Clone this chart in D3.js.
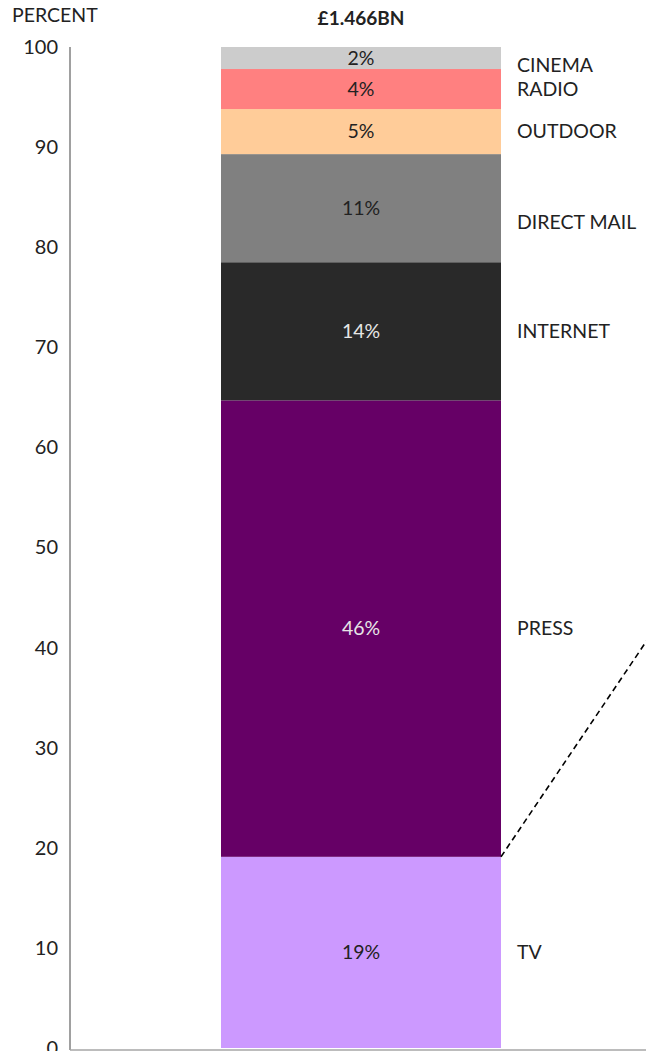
<!DOCTYPE html>
<html>
<head>
<meta charset="utf-8">
<script src="https://cdn.jsdelivr.net/npm/d3@7"></script>
<style>
  html, body { margin: 0; padding: 0; background: #fff; }
  svg { display: block; font-family: "Lato", "Open Sans", sans-serif; }
</style>
</head>
<body>
<svg id="chart" width="646" height="1051"></svg>
<script>
// Media share of advertising spend, stacked bottom to top
const categories = ["TV", "PRESS", "INTERNET", "DIRECT MAIL", "OUTDOOR", "RADIO", "CINEMA"];
const shares = [19.1, 45.6, 13.8, 10.8, 4.5, 4.0, 2.2];
const colors = ["#cc99ff", "#660066", "#292929", "#808080", "#ffcc99", "#ff8080", "#cccccc"];
const valueTextColors = ["#222", "#e6e6e6", "#e6e6e6", "#222", "#222", "#222", "#222"];
const yTicks = [0, 10, 20, 30, 40, 50, 60, 70, 80, 90, 100];
const total = "£1.466BN";
const yTitle = "PERCENT";

const svg = d3.select("#chart");
const W = 646;

const y = d3.scaleLinear().domain([0, 100]).range([1048, 47]);
const barX0 = 221, barX1 = 501;

// stack
let acc = 0;
const stacked = categories.map((c, i) => {
  const d = { cat: c, v: shares[i], y0: acc, y1: acc + shares[i], color: colors[i], tc: valueTextColors[i] };
  acc += shares[i];
  return d;
});

// axis lines
svg.append("line")
  .attr("x1", 70).attr("x2", 70)
  .attr("y1", y(100)).attr("y2", 1050)
  .attr("stroke", "#808080").attr("stroke-width", 1.5);
svg.append("line")
  .attr("x1", 70).attr("x2", W)
  .attr("y1", 1050).attr("y2", 1050)
  .attr("stroke", "#a6a6a6").attr("stroke-width", 1.5);

// y tick labels
const yAxis = d3.axisLeft(y).tickValues(yTicks).tickSize(0).tickPadding(0);
const gy = svg.append("g").attr("transform", "translate(58,0)").call(yAxis);
gy.select(".domain").remove();
gy.selectAll("text")
  .attr("font-size", 20).attr("fill", "#222")
  .attr("font-family", "Lato, sans-serif");

svg.append("text")
  .attr("x", 12).attr("y", 22)
  .attr("font-size", 19.5).attr("fill", "#222")
  .text(yTitle);

svg.append("text")
  .attr("x", (barX0 + barX1) / 2).attr("y", 25)
  .attr("text-anchor", "middle")
  .attr("font-size", 19).attr("font-weight", "bold").attr("fill", "#222")
  .text(total);

// segments
const seg = svg.append("g").selectAll("g").data(stacked).join("g");
seg.append("rect")
  .attr("x", barX0).attr("width", barX1 - barX0)
  .attr("y", d => y(d.y1))
  .attr("height", d => y(d.y0) - y(d.y1))
  .attr("fill", d => d.color);
seg.append("text")
  .attr("x", (barX0 + barX1) / 2)
  .attr("y", d => y((d.y0 + d.y1) / 2))
  .attr("dy", "0.35em")
  .attr("text-anchor", "middle")
  .attr("font-size", 19.5)
  .attr("fill", d => d.tc)
  .text(d => Math.round(d.v) + "%");

// category labels to the right, nudged where neighbours crowd
const nudge = { "CINEMA": 7, "DIRECT MAIL": 14 };
seg.append("text")
  .attr("x", 517)
  .attr("y", d => y((d.y0 + d.y1) / 2) + (nudge[d.cat] || 0))
  .attr("dy", "0.35em")
  .attr("font-size", 19.5)
  .attr("fill", "#222")
  .text(d => d.cat);

// dashed connector from the top of the TV segment
const tvTop = y(stacked[0].y1);
svg.append("line")
  .attr("x1", barX1).attr("y1", tvTop)
  .attr("x2", barX1 + 160).attr("y2", tvTop - 160 * 215 / 145)
  .attr("stroke", "#000").attr("stroke-width", 1.6)
  .attr("stroke-dasharray", "6,4");
</script>
</body>
</html>
